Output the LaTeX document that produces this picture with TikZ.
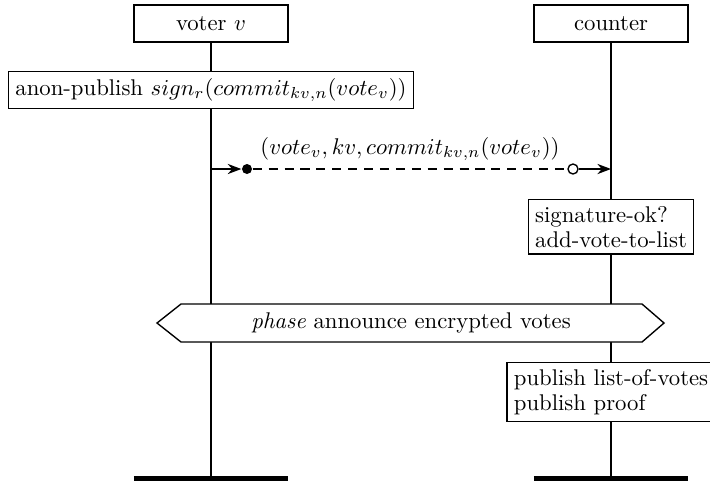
\documentclass[tikz,border=0pt]{standalone}
\usepackage{amssymb}
\usepackage{tikz}
\usetikzlibrary{arrows.meta}

\begin{document}
\begin{tikzpicture}[x=0.44pt,y=-0.44pt,line width=0.6pt,
  inst/.style={draw,fill=white,minimum width=67.8pt,minimum height=16.3pt},
  act/.style={draw,fill=white,inner sep=3pt,align=left,anchor=north,
    execute at begin node={\setlength{\baselineskip}{10.8pt}}},
  endbar/.style={line width=2.5pt},
  msgarrow/.style={-{Stealth[length=6pt,width=4.5pt]}},
  dotfill/.style={circle,fill,inner sep=0pt,minimum size=4.4pt},
  dotopen/.style={circle,draw,fill=white,inner sep=0pt,minimum size=4.4pt}]
\useasboundingbox (0,0) rectangle (710,483);
% instances and lifelines
\node[inst] (voter) at (211,23.5) {voter $v$};
\node[inst] (counter) at (611,23.5) {counter};
\coordinate (voterend) at (211,478.5);
\coordinate (counterend) at (611,478.5);
\draw (voter) -- (voterend);
\draw (counter) -- (counterend);
\draw[endbar] ([xshift=-33.9pt]voterend) -- ([xshift=33.9pt]voterend);
\draw[endbar] ([xshift=-33.9pt]counterend) -- ([xshift=33.9pt]counterend);
% voter action
\node[act,anchor=center,minimum height=15.8pt] (anon) at (211,90)
  {anon-publish $sign_r(commit_{kv,n}(vote_v))$};
% message
\coordinate (m0) at (211,169);
\node[dotfill] (dot) at (247,169) {};
\node[dotopen] (circ) at (573,169) {};
\coordinate (m1) at (611,169);
\draw[msgarrow] (m0) -- (dot);
\draw[dash pattern=on 4pt off 3pt] (dot) -- node[above] {$(vote_v, kv, commit_{kv,n}(vote_v))$} (circ);
\draw[msgarrow] (circ) -- (m1);
% counter action
\node[act] (sig) at (611,199) {signature-ok?\\add-vote-to-list};
% phase
\draw[fill=white] (157,323) -- (181,304) -- (642,304) -- (664,323) -- (642,342) -- (181,342) -- cycle;
\node (phase) at (411,323) {\emph{phase} announce encrypted votes};
\node[act] (pub) at (611,362) {publish list-of-votes\\publish proof};
\end{tikzpicture}
\end{document}
